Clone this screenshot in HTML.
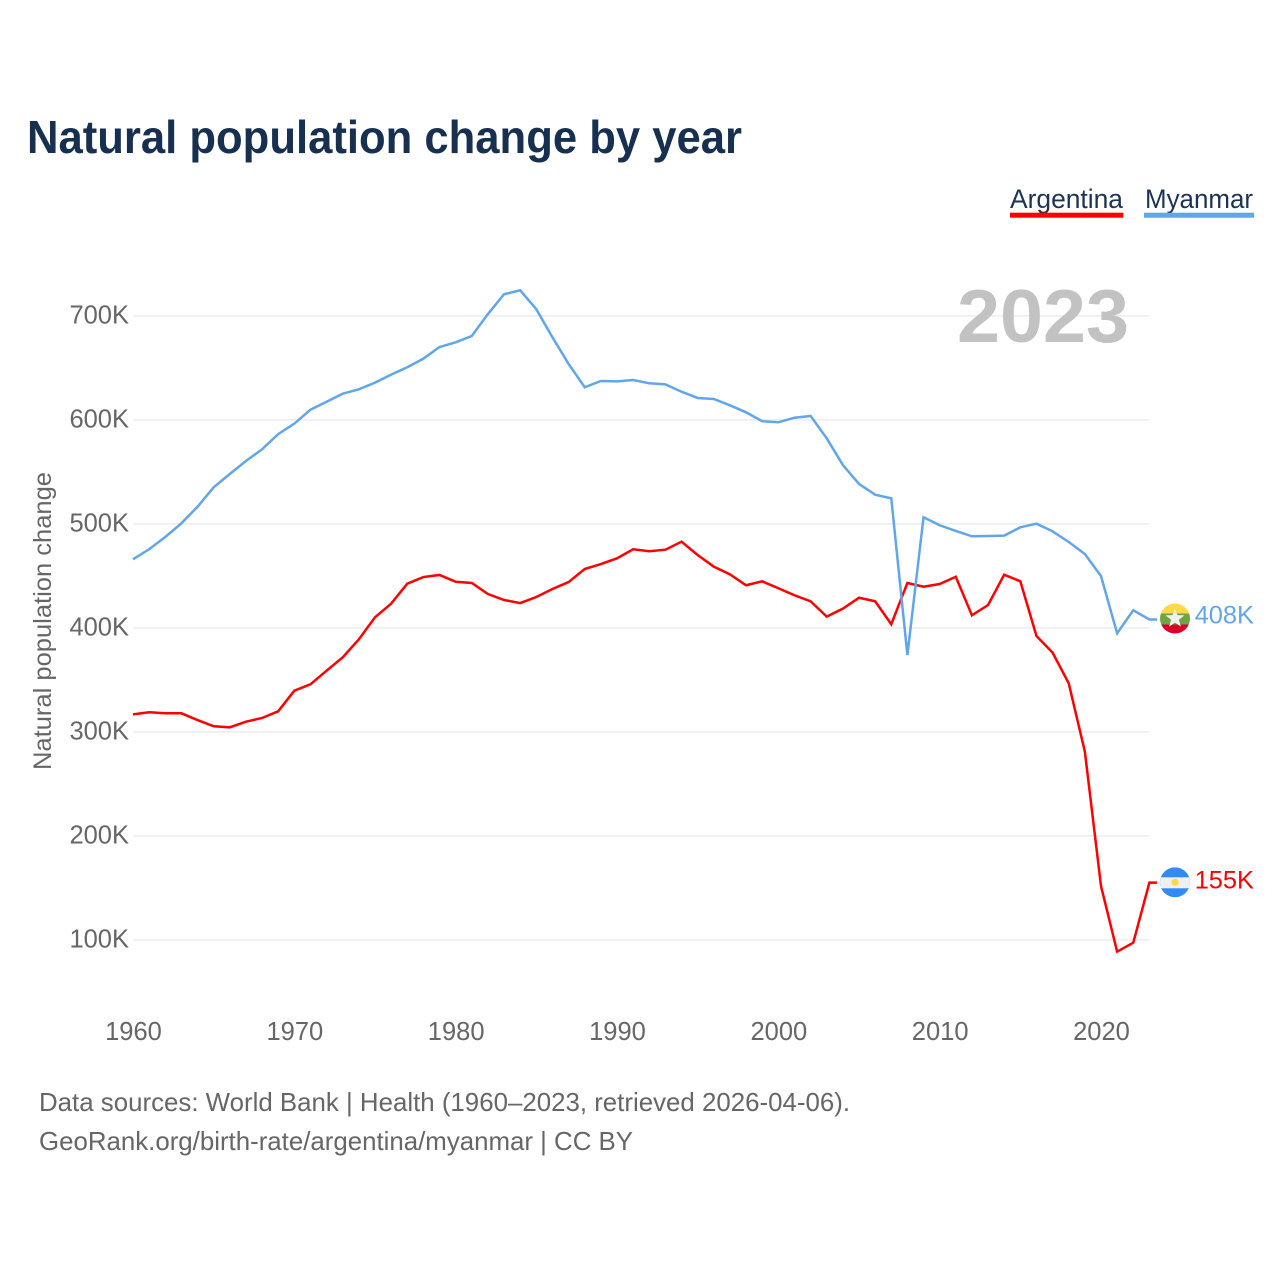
<!DOCTYPE html>
<html lang="en">
<head>
<meta charset="utf-8">
<title>Natural population change by year</title>
<style>
  html, body { margin: 0; padding: 0; background: #fff; }
  svg { display: block; font-family: "Liberation Sans", sans-serif; }
</style>
</head>
<body>
<svg id="chart" xmlns="http://www.w3.org/2000/svg" width="1280" height="1280" viewBox="0 0 1280 1280">
  <rect x="0" y="0" width="1280" height="1280" fill="#ffffff"/>
  <text x="27" y="153" font-size="46" font-weight="700" fill="#17304f" textLength="715" lengthAdjust="spacingAndGlyphs">Natural population change by year</text>

  <g>
    <g>
      <text x="1010" y="208" font-size="27" fill="#1c3354" textLength="113" lengthAdjust="spacingAndGlyphs">Argentina</text>
      <rect x="1010" y="212.7" width="113.3" height="5" fill="#ff0000"/>
    </g>
    <g>
      <text x="1145" y="208" font-size="27" fill="#1c3354" textLength="108" lengthAdjust="spacingAndGlyphs">Myanmar</text>
      <rect x="1144" y="212.7" width="110" height="5" fill="#62a6ea"/>
    </g>
  </g>

  <g id="grid"></g>
  <g id="y-ticks"></g>
  <g id="x-ticks"></g>

  <text transform="translate(51,621) rotate(-90)" text-anchor="middle" font-size="25" fill="#666666" textLength="298" lengthAdjust="spacingAndGlyphs">Natural population change</text>
  <text x="957" y="342" font-size="75" font-weight="700" fill="#c2c2c2" textLength="172" lengthAdjust="spacingAndGlyphs">2023</text>

  <g id="series"></g>

  <g id="flag-myanmar">
    <clipPath id="clip-mm"><circle cx="1175" cy="0" r="15"/></clipPath>
    <g clip-path="url(#clip-mm)">
      <rect x="1160" y="-15" width="30" height="10" fill="#ffda44"/>
      <rect x="1160" y="-5" width="30" height="11" fill="#6da544"/>
      <rect x="1160" y="6" width="30" height="9" fill="#d80027"/>
    </g>
    <polygon points="1175,-10 1177.4,-3.3 1184.5,-3.1 1178.9,1.3 1180.9,8.1 1175,4.1 1169.1,8.1 1171.1,1.3 1165.5,-3.1 1172.6,-3.3" fill="#f0f0f0"/>
  </g>
  <g id="flag-argentina">
    <clipPath id="clip-ar"><circle cx="1175" cy="0" r="15"/></clipPath>
    <g clip-path="url(#clip-ar)">
      <rect x="1160" y="-15" width="30" height="30" fill="#338af3"/>
      <rect x="1160" y="-5" width="30" height="11" fill="#f0f0f0"/>
    </g>
    <circle cx="1175" cy="0" r="3.6" fill="#ffda44"/>
  </g>

  <g>
    <text x="39" y="1111" font-size="26" fill="#666666" textLength="811" lengthAdjust="spacingAndGlyphs">Data sources: World Bank | Health (1960–2023, retrieved 2026-04-06).</text>
    <text x="39" y="1150" font-size="26" fill="#666666" textLength="594" lengthAdjust="spacingAndGlyphs">GeoRank.org/birth-rate/argentina/myanmar | CC BY</text>
  </g>
</svg>
<script>
const startYear = 1960;
const endYear = 2023;
const yTickValues = [100, 200, 300, 400, 500, 600, 700];
const yTickLabels = ["100K", "200K", "300K", "400K", "500K", "600K", "700K"];
const xTickYears = [1960, 1970, 1980, 1990, 2000, 2010, 2020];
const xTickLabels = ["1960", "1970", "1980", "1990", "2000", "2010", "2020"];
const myanmarValues = [465.9, 475.5, 487.3, 500.5, 516.4, 535.1, 547.9, 560.4, 571.6, 586.3,
  596.3, 609.7, 617.4, 625.1, 629.3, 635.7, 643.4, 650.5, 658.8, 670,
  674.5, 680.6, 701.7, 720.7, 724.5, 706.3, 679.3, 653.7, 631.3, 637.3,
  637, 638.3, 635.1, 634.1, 627, 621, 620, 613.9, 607.2, 598.6,
  597.6, 602, 603.7, 582.2, 556.5, 538.3, 528, 524.5, 373.8, 506.3,
  498.6, 493.1, 488, 488.3, 488.6, 496.6, 500.1, 492.8, 482.5, 471,
  449.8, 394.7, 416.8, 408];
const argentinaValues = [316.8, 318.8, 317.8, 317.8, 311.3, 305.3, 304.3, 309.7, 313.3, 319.7,
  339.5, 345.7, 358.8, 371.6, 388.9, 410.1, 423.2, 442.4, 448.8, 450.8,
  444.3, 443.1, 432.5, 426.7, 423.8, 429.6, 437.3, 444, 456.5, 461.3,
  466.8, 475.5, 473.6, 475.1, 482.8, 470, 458.8, 451.4, 440.9, 444.7,
  438, 431.3, 425.5, 410.7, 418.4, 428.9, 425.5, 403.4, 443.1, 439.5,
  442.1, 449.1, 412, 421.9, 451.1, 444.7, 392.1, 376.1, 346.6, 280.9,
  151.7, 88.6, 97.2, 155];

const SVG_NS = "http://www.w3.org/2000/svg";
const xScale = function (year) { return 133 + (year - 1960) * (1149.4 - 133) / 63; };
const yScale = function (k) { return 1043.8 - k * 1.04; };
const AXIS_RIGHT = xScale(endYear);
const CONNECTOR_END = 1157;

function make(tag, attrs, parent) {
  const el = document.createElementNS(SVG_NS, tag);
  Object.keys(attrs).forEach(function (k) { el.setAttribute(k, attrs[k]); });
  parent.appendChild(el);
  return el;
}

const grid = document.getElementById("grid");
const yTicks = document.getElementById("y-ticks");
yTickValues.forEach(function (v, i) {
  const line = make("line", { x1: xScale(startYear), x2: AXIS_RIGHT, y1: yScale(v), y2: yScale(v), stroke: "#eeeeee", "stroke-width": 1.6 }, grid);
  
  
  const label = make("text", { x: 129, y: yScale(v) + 7.7, "text-anchor": "end", "font-size": 25.5, fill: "#666666" }, yTicks);
  label.textContent = yTickLabels[i];
  
  
});

const xTicks = document.getElementById("x-ticks");
xTickYears.forEach(function (yr, i) {
  const label = make("text", { x: xScale(yr) + 0.5, y: 1040, "text-anchor": "middle", "font-size": 25.5, fill: "#666666" }, xTicks);
  label.textContent = xTickLabels[i];
  
  
});

function drawSeries(values, color, labelDy) {
  const parent = document.getElementById("series");
  const pts = values.map(function (v, i) { return xScale(startYear + i).toFixed(2) + "," + yScale(v).toFixed(2); });
  const last = values[values.length - 1];
  pts.push(CONNECTOR_END + "," + yScale(last).toFixed(2));
  const line = make("polyline", { points: pts.join(" "), fill: "none", stroke: color, "stroke-width": 2.5, "stroke-linejoin": "miter" }, parent);
  const text = make("text", { x: 1254, y: yScale(last) + labelDy, "text-anchor": "end", "font-size": 25.4, fill: color }, parent);
  text.textContent = Math.round(last) + "K";
  return { line: line, text: text, y: yScale(last) };
}

const argentina = drawSeries(argentinaValues, "#ff0000", 5.8);




const myanmar = drawSeries(myanmarValues, "#62a6ea", 4.2);





document.getElementById("flag-myanmar").setAttribute("transform", "translate(0," + (myanmar.y - 1) + ")");
document.getElementById("flag-argentina").setAttribute("transform", "translate(0," + (argentina.y - 0.3) + ")");
</script>
</body>
</html>
